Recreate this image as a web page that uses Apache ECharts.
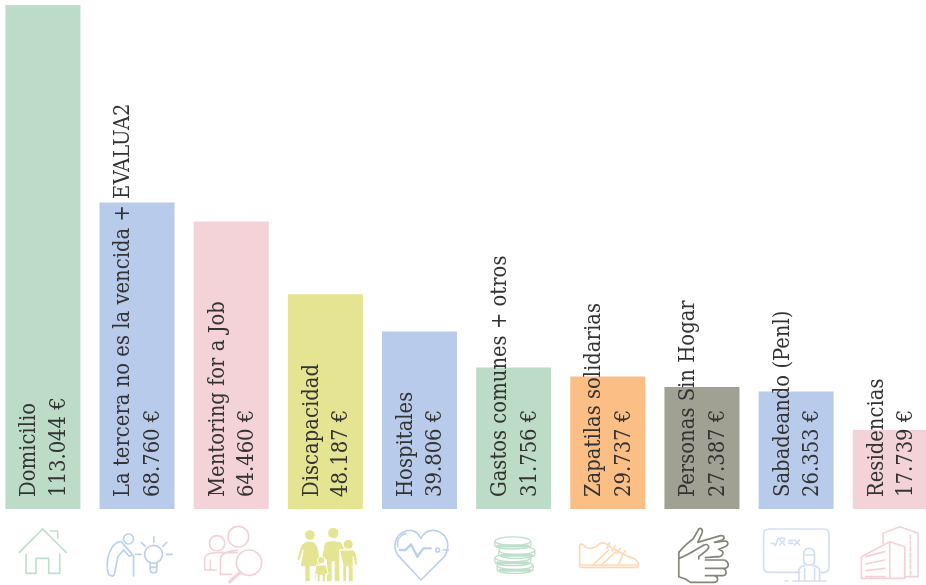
<!DOCTYPE html>
<html><head><meta charset="utf-8">
<style>html,body{margin:0;padding:0;background:#fff}#c{width:926px;height:585px;overflow:hidden}</style>
<script src="https://cdn.jsdelivr.net/npm/echarts@6/dist/echarts.min.js"></script></head>
<body><div id="c"></div>
<script>
const categories = ['Domicilio','La tercera no es la vencida + EVALUA2','Mentoring for a Job','Discapacidad','Hospitales','Gastos comunes + otros','Zapatilas solidarias','Personas Sin Hogar','Sabadeando (Penl)','Residencias'];
const values = [113044,68760,64460,48187,39806,31756,29737,27387,26353,17739];
const valueLabels = ['113.044 €','68.760 €','64.460 €','48.187 €','39.806 €','31.756 €','29.737 €','27.387 €','26.353 €','17.739 €'];
const barColors = ['#bcdcc8','#b9cbea','#f4d3d8','#e5e492','#b9cbea','#bcdcc8','#fbbe85','#a0a093','#b9cbea','#f4d3d8'];

function circ(x,y,r){return `M${x-r} ${y}A${r} ${r} 0 1 1 ${x+r} ${y}A${r} ${r} 0 1 1 ${x-r} ${y}Z`;}
function coin(cx,cy){return `M${cx-54} ${cy}C${cx-54} ${cy-19} ${cx+54} ${cy-19} ${cx+54} ${cy}V${cy+10}C${cx+54} ${cy+26} ${cx-54} ${cy+26} ${cx-54} ${cy+10}Z`;}
function coinTop(cx,cy){return `M${cx-54} ${cy}C${cx-40} ${cy+14} ${cx+40} ${cy+14} ${cx+54} ${cy}`;}
const S=(d,c,w,o)=>Object.assign({d,stroke:c,fill:'none',w:w||5},o||{});
const F=(d,c)=>({d,stroke:'#fff',fill:c,w:3});
const gs='#bfdfcb',bl='#bcd0ee',pk='#f3d2d7',yl='#e5e492',og='#fdd9b5',gy='#85857a',lb='#d2dff3';
function coinParts(cx,cy){return [{d:coin(cx,cy),stroke:gs,fill:'#fff',w:4},S(coinTop(cx,cy),gs,4),{d:`M${cx-46} ${cy+13}H${cx+46}`,stroke:gs,fill:'none',w:9,dash:[3,5]}];}
const icons=[
 {ox:42.5,p:[S('M57 112L127 42L197 112',gs,5),S('M150 48H172V70',gs,5),S('M77 118V175H107V130H145V175H178V118',gs,5)]},
 {ox:137.5,p:[S(circ(387,72,15),bl),S('M335 182C325 182 323 170 323 150C323 110 345 78 365 80L398 118C396 125 388 125 384 118L372 105L355 125L345 175C343 184 338 184 335 182Z',bl),S('M402 122V183',bl),S(circ(462,118,27),bl),S('M452 145V165C452 177 472 177 472 165V145M452 157H472',bl),S('M463 65V82M425 82L437 94M502 82L490 94M408 118H425M500 118H518',bl)]},
 {ox:231.5,p:[S(circ(652,85,23),pk),S(circ(716,65,31),pk),S(circ(748,143,38),pk),S('M722 172L690 200',pk,10),S('M615 165V130C618 118 630 113 652 113H712',pk),S('M615 165H650M632 165V135',pk),S('M662 178V130C665 118 680 108 712 106',pk),S('M662 178H695',pk)]},
 {ox:40.5,p:[F(circ(75,60,16),yl),F(circ(145,54,17),yl),F(circ(190,88,15),yl),F('M120 82Q145 72 170 82L180 105H165V200H148V140H142V200H125V135L112 125Z',yl),F('M75 78C55 78 45 90 37 130C37 140 45 140 47 128L55 105L46 155H60V200H76V155H90V200L108 155L102 110C98 90 90 78 75 78Z',yl),F('M165 105H205Q218 110 218 150H210L205 125V200H190V155H185V200H174V150Z',yl),F(circ(109,136,11),yl),F('M95 150H125L130 178H122V200H112V180H106V200H97V178H90Z',yl)]},
 {ox:134.5,p:[S('M408 195L340 122C320 95 330 60 362 48C382 42 398 50 408 70C418 50 436 42 458 48C488 60 498 95 478 125L408 195',bl),S('M345 105H362L378 88L397 125L415 100H437',bl,7),S(circ(458,105,6),bl),S('M475 105H490',bl),S('M338 95C335 75 345 60 362 55',bl)]},
 {ox:228.5,p:[].concat(coinParts(690,153),coinParts(683,130),coinParts(695,108),coinParts(683,80))},
 {ox:37.5,p:[S('M30 150H203Q206 157 198 157H33Q26 157 30 150Z',og),S('M28 148V95C28 85 38 85 45 95C55 105 75 100 90 85C100 80 110 85 125 100L175 125C195 130 205 140 205 150',og),S('M70 148L115 105M95 148L135 112M145 148L155 125',og),S('M118 82L110 100M135 92L125 108M150 100L140 115M165 108L155 122',og)]},
 {ox:131.5,p:[S('M325 112C340 95 355 80 368 72L385 42C392 36 400 45 393 58L382 82L450 62C462 60 465 70 455 75L432 82L465 78C475 80 475 92 462 96L445 103L455 108C462 112 455 128 440 125L405 128',gy,5),S('M325 112V185L345 192L360 202H430C445 202 445 185 432 182H405M430 182H458C470 180 470 165 458 160H405M458 160H465C478 155 475 140 462 135H405',gy,5),S('M325 130C345 125 375 105 400 90C412 85 420 95 410 105L385 125V132',gy,5)]},
 {ox:46.5,p:[S('M150 172H60Q42 172 42 155V58Q42 42 60 42H222Q238 42 238 58V155Q238 172 222 172H215',lb),S('M162 120Q162 100 178 100Q195 100 195 120V135Q195 150 178 150Q162 150 162 135ZM162 120H195',lb),S('M148 198V165Q150 155 165 152M210 198V165Q208 155 190 152M165 160V198M195 160V198',lb),S('M130 198H230M105 198H115',lb),S('M65 85L72 85L78 92L85 70H105M90 75L105 90M105 75L90 90M118 77H130M118 85H130M135 75L150 90M150 75L135 90',lb,5)]},
 {ox:140.5,p:[S('M400 85V55L450 35L505 55V185H465',pk),S('M482 60V180',pk,5,{dash:[12,6]}),S('M335 190V125L420 80L465 95V190H335M420 80V190',pk),S('M348 125L405 110M348 147L405 135M348 167L405 160M348 185H405',pk)]}
];

const chart = echarts.init(document.getElementById('c'),null,{renderer:'canvas'});
chart.setOption({
 animation:false,
 grid:{left:-4.175,width:941.5,top:5,height:504,containLabel:false,outerBoundsMode:'none'},
 xAxis:{type:'category',data:categories,show:false},
 yAxis:{type:'value',min:0,max:113044,show:false},
 series:[
  {type:'bar',barWidth:75,z:2,
   data:values.map((v,i)=>({value:v,itemStyle:{color:barColors[i]},
     label:{formatter:'{n|'+categories[i]+'}\n{v|'+valueLabels[i]+'}'}})),
   label:{show:true,position:'insideBottom',distance:12,offset:[0,1.5],rotate:90,align:'left',verticalAlign:'middle',
     fontFamily:'DejaVu Serif Condensed',color:'#333',
     rich:{n:{fontFamily:'DejaVu Serif Condensed',fontSize:21.8,lineHeight:29.5,color:'#333'},
           v:{fontFamily:'DejaVu Serif Condensed',fontSize:21.8,lineHeight:29.5,color:'#333'}}}},
  {type:'custom',silent:true,z:3,data:categories.map((c,i)=>[i,0]),encode:{x:0,y:1},
   renderItem:(p,api)=>{
     const pt=api.coord([api.value(0),0]); const ic=icons[p.dataIndex];
     return {type:'group',x:pt[0]-ic.ox,y:pt[1]+6,scaleX:1/3,scaleY:1/3,
       children:ic.p.map(e=>({type:'path',shape:{pathData:e.d},
         style:{stroke:e.stroke,fill:e.fill,lineWidth:e.w,lineDash:e.dash||null,lineCap:'round',lineJoin:'round'}}))};
   }}
 ]
});
</script></body></html>
